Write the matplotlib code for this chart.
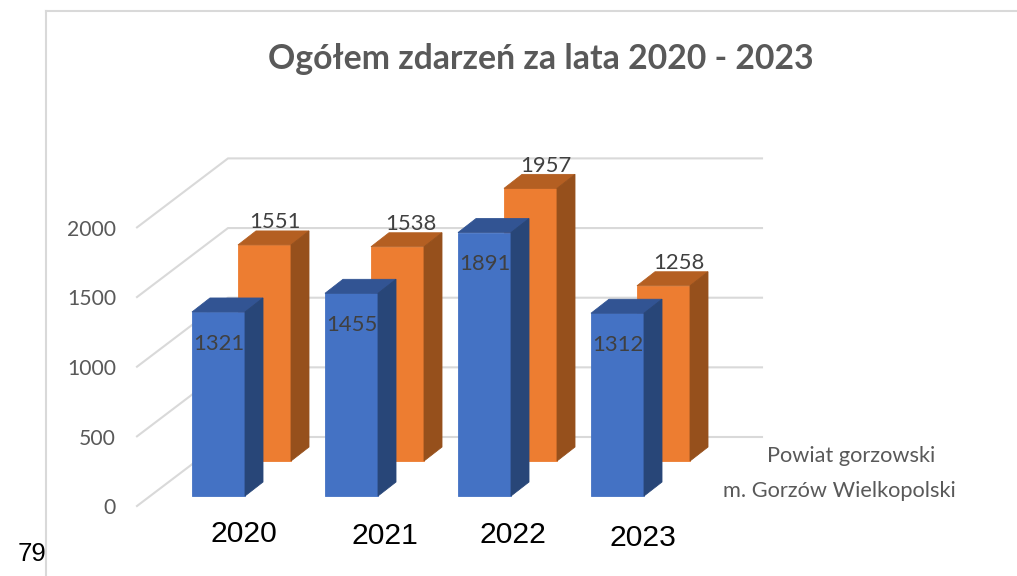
import matplotlib
matplotlib.use('Agg')
import matplotlib.pyplot as plt
from matplotlib.patches import Polygon

# Data
years = ['2020', '2021', '2022', '2023']
gorzow = [1321, 1455, 1891, 1312]
powiat = [1551, 1538, 1957, 1258]
ticks = [0, 500, 1000, 1500, 2000]

# Pixel scale of the axes
W, H = 1017, 576
px_x = 133.0
px_y = 0.1393
x0 = 192
y0 = 496

BAR_W = 53 / px_x
SIDE_X = 18 / px_x
SIDE_Y = 14 / px_y
ROW_X = 46 / px_x
ROW_Y = 35 / px_y

fig = plt.figure(figsize=(W / 100, H / 100), dpi=100)
ax = fig.add_axes([0, 0, 1, 1])
ax.set_xlim(-x0 / px_x, (W - x0) / px_x)
ax.set_ylim((y0 - H) / px_y, y0 / px_y)
ax.axis('off')
plt.rcParams['font.family'] = ['Lato', 'DejaVu Sans']


def X(px):
    return (px - x0) / px_x


def Y(px):
    return (y0 - px) / px_y


def bar3d(x, base, val, front, top, side, z):
    h = base + val
    ax.add_patch(Polygon([(x, base), (x + BAR_W, base), (x + BAR_W, h), (x, h)],
                         fc=front, ec=front, lw=0.6, zorder=z))
    ax.add_patch(Polygon([(x, h), (x + BAR_W, h), (x + BAR_W + SIDE_X, h + SIDE_Y), (x + SIDE_X, h + SIDE_Y)],
                         fc=top, ec=top, lw=0.6, zorder=z))
    ax.add_patch(Polygon([(x + BAR_W, base), (x + BAR_W + SIDE_X, base + SIDE_Y),
                          (x + BAR_W + SIDE_X, h + SIDE_Y), (x + BAR_W, h)],
                         fc=side, ec=side, lw=0.6, zorder=z))


# Outer frame of the page crop
ax.plot([X(46), X(46)], [Y(576), Y(11)], color='#d9d9d9', lw=1.5, zorder=1)
ax.plot([X(46), X(1017)], [Y(11), Y(11)], color='#d9d9d9', lw=1.5, zorder=1)

# Gridlines: slanted on the left wall, flat on the back wall
wall_l = X(137)
wall_m = X(228)
wall_r = X(762)
floor_y = Y(506)
back_y = Y(437)
for t in ticks:
    ax.plot([wall_l, wall_m, wall_r], [floor_y + t, back_y + t, back_y + t],
            color='#d9d9d9', lw=1.5, zorder=1, solid_joinstyle='miter')
    ax.text(X(116), floor_y + t - 16, str(t), ha='right', va='center',
            fontsize=15.2, color='#595959', zorder=5)

# Bars, back row first
for i, (a, b) in enumerate(zip(gorzow, powiat)):
    bar3d(i + ROW_X, ROW_Y, b, '#ed7d31', '#b45f22', '#96501c', 2)
    bar3d(i, 0, a, '#4472c4', '#325493', '#284678', 3)

# Data labels, the back row ones drift a little to the right in the source
label_shift = [0, 3, 5, 5]
for i, b in enumerate(powiat):
    ax.text(i + ROW_X + BAR_W / 2 + X(202 + label_shift[i]), ROW_Y + b + SIDE_Y + 62, str(b),
            ha='center', va='center', fontsize=15.8, color='#404040', zorder=6)
for i, a in enumerate(gorzow):
    ax.text(i + BAR_W / 2, a - 229, str(a), ha='center', va='center',
            fontsize=15.8, color='#404040', zorder=6)

# Category labels were placed by hand in the source, so they wander a bit
year_px = [(244, 534), (385, 536), (513, 535), (643, 538)]
for lab, (xp, yp) in zip(years, year_px):
    ax.text(X(xp), Y(yp), lab, ha='center', va='center', fontsize=21.7,
            family='Liberation Sans', color='black', zorder=6)

ax.text(X(32), Y(554), '79', ha='center', va='center', fontsize=18.5,
        family='Liberation Sans', color='black')

ax.text(X(851), Y(456), 'Powiat gorzowski', ha='center', va='center',
        fontsize=15.7, color='#595959')
ax.text(X(839), Y(491), 'm. Gorzów Wielkopolski', ha='center', va='center',
        fontsize=15.7, color='#595959')

ax.text(X(541), Y(59), 'Ogółem zdarzeń za lata 2020 - 2023', ha='center', va='center',
        fontsize=24.3, fontweight='bold', color='#595959')

fig.savefig('out.png', dpi=100)
